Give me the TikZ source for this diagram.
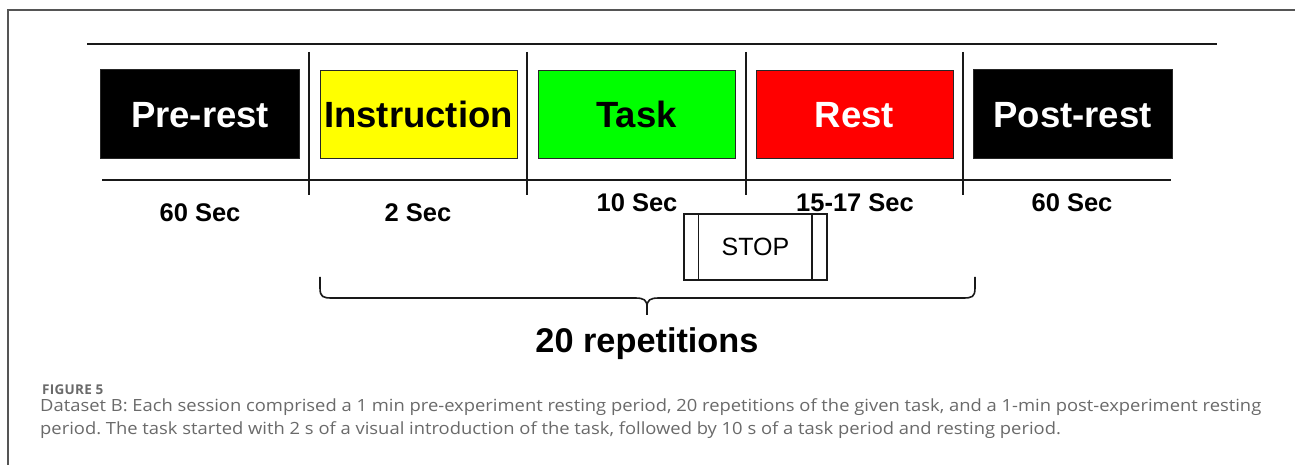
\documentclass[tikz,border=0pt]{standalone}
\usepackage{fontspec}
\setmainfont{Liberation Sans}
\newfontfamily\capfont[FakeStretch=1.094]{Open Sans}
\newfontfamily\figfont[LetterSpace=2]{Open Sans}
\definecolor{framegray}{HTML}{555555}
\definecolor{capgray}{HTML}{6A6A6A}
\definecolor{instyellow}{HTML}{FFFF00}
\definecolor{taskgreen}{HTML}{00FF00}
\definecolor{restred}{HTML}{FF0000}
\frenchspacing
\begin{document}
\begin{tikzpicture}[x=1bp,y=-1bp,
  phase/.style={draw=black!85, line width=1bp, minimum width=197bp, minimum height=88bp,
    inner sep=0pt, text height=26.3bp, text depth=0pt,
    font=\fontsize{36.5bp}{40bp}\selectfont\bfseries},
  dur/.style={anchor=base, inner sep=0pt, font=\fontsize{25.5bp}{28bp}\selectfont\bfseries},
  tline/.style={line width=2bp, black!90},
  divider/.style={line width=1.6bp, black!90},
  capline/.style={anchor=base west, inner sep=0pt, text=capgray, font=\capfont\fontsize{16.8bp}{20bp}\selectfont}
]
\useasboundingbox (0,0) rectangle (1295,465);
\fill[white] (0,0) rectangle (1295,465);
% outer frame
\draw[framegray, line width=1.4bp] (8,470) -- (8,10) -- (1300,10);

% timeline lines
\coordinate (tl1) at (87,44);
\coordinate (tl2) at (1217,44);
\draw[line width=1.5bp, black!90] (tl1) -- (tl2);
\coordinate (bl1) at (102,180);
\coordinate (bl2) at (1171,180);
\draw[tline] (bl1) -- (bl2);
\foreach \xx/\nm in {309/a,527/b,746/c,963/d}{
  \coordinate (dv\nm1) at (\xx,52);
  \coordinate (dv\nm2) at (\xx,195);
  \draw[divider] (dv\nm1) -- (dv\nm2);
}

% phase boxes
\node[phase, fill=black, text=white, minimum width=198bp, minimum height=89bp] (pre) at (200,114.5) {Pre-rest};
\node[phase, fill=instyellow, text=black] (inst) at (418.5,114.5) {Instruction};
\node[phase, fill=taskgreen, text=black] (task) at (636.5,114.5) {Task};
\node[phase, fill=restred, text=white] (rest) at (854.5,114.5) {Rest};
\node[phase, fill=black, text=white, minimum width=199bp, minimum height=89bp] (post) at (1072.5,114.5) {Post-rest};

% durations
\node[dur] (d1) at (200,222) {60 Sec};
\node[dur] (d2) at (418,222) {2 Sec};
\node[dur] (d3) at (637,212) {10 Sec};
\node[dur] (d4) at (855,212) {15-17 Sec};
\node[dur] (d5) at (1072,212) {60 Sec};

% STOP box
\node[draw=black!90, line width=1.5bp, minimum width=143bp, minimum height=66bp, inner sep=0pt,
  text height=18bp, text depth=0pt, font=\fontsize{25bp}{28bp}\selectfont] (stop) at (755.5,247) {STOP};
\draw[line width=1.5bp, black!90] ([xshift=15bp]stop.north west) -- ([xshift=15bp]stop.south west);
\draw[line width=1.5bp, black!90] ([xshift=-16bp]stop.north east) -- ([xshift=-16bp]stop.south east);

% brace
\coordinate (brL) at (320,277);
\coordinate (brR) at (975,277);
\coordinate (brT) at (647,315);
\draw[line width=1.6bp, black!90]
  (brL) -- (320,288) .. controls (320,297) and (323,298) .. (332,298)
  -- (635,298) .. controls (644,298) and (647,300) .. (647,307) -- (brT);
\draw[line width=1.6bp, black!90]
  (647,307) .. controls (647,300) and (650,298) .. (659,298)
  -- (963,298) .. controls (972,298) and (975,297) .. (975,288) -- (brR);
\node[anchor=base, inner sep=0pt, font=\fontsize{34.3bp}{38bp}\selectfont\bfseries] (reps) at (647,353) {20 repetitions};

% caption
\node[anchor=base west, inner sep=0pt, text=capgray, font=\figfont\fontsize{13.5bp}{15bp}\selectfont\bfseries] (fig) at (42,395) {FIGURE 5};
\node[capline] (cap1) at (40,412) {Dataset B: Each session comprised a 1 min pre-experiment resting period, 20 repetitions of the given task, and a 1-min post-experiment resting};
\node[capline] (cap2) at (40,435) {period. The task started with 2 s of a visual introduction of the task, followed by 10 s of a task period and resting period.};
\end{tikzpicture}
\end{document}
